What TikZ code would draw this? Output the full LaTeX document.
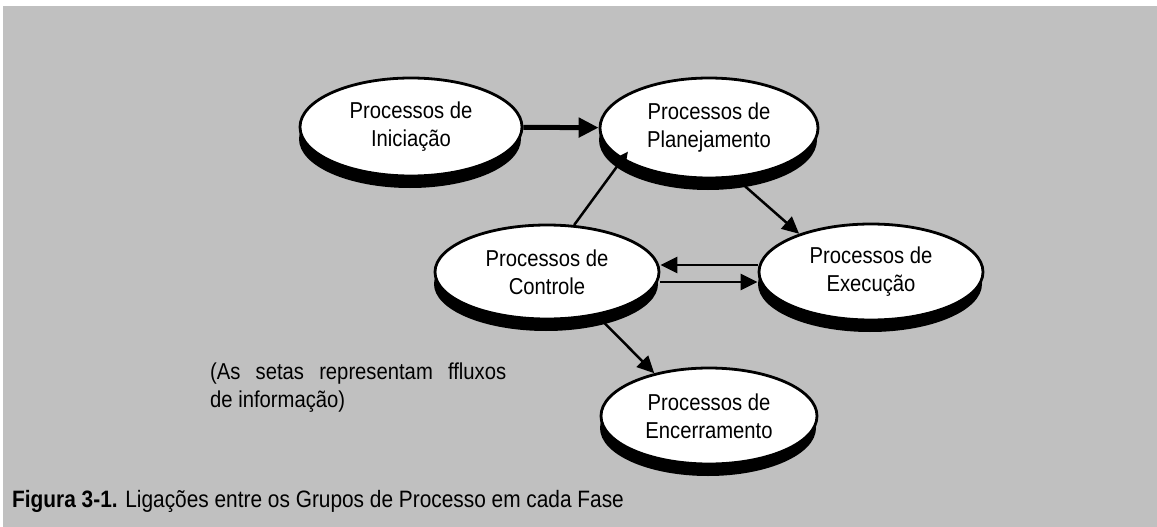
\documentclass[tikz,border=0pt]{standalone}
\usepackage{fontspec}
\setmainfont{Liberation Sans}[FakeStretch=0.88]
\usetikzlibrary{arrows.meta,shapes.geometric,shadows}
\definecolor{panel}{RGB}{192,192,192}
\begin{document}
\begin{tikzpicture}[x=1pt,y=-1pt,
  proc/.style={ellipse, draw=black, line width=2.8pt, fill=white, inner sep=0pt,
    align=center, font=\fontsize{23}{28}\selectfont,
    drop shadow={shadow xshift=-1pt, shadow yshift=-12pt, fill=black, opacity=1}},
  flow/.style={line width=2.5pt, -{Triangle[length=17pt,width=16pt]}},
  mainflow/.style={line width=5pt, -{Triangle[length=20pt,width=19pt]}},
  note/.style={font=\fontsize{23}{28}\selectfont, inner sep=0pt}]
\useasboundingbox (0,0) rectangle (1157,527);
\fill[white] (0,0) rectangle (1157,527);
\fill[panel] (3,6) rectangle (1157,527);

% process groups
\node[proc, minimum width=222pt, minimum height=98pt] (ini) at (411,127) {Processos de\\Iniciação};
\node[proc, minimum width=218pt, minimum height=100pt] (plan) at (709,128) {Processos de\\Planejamento};
\node[proc, minimum width=224pt, minimum height=94pt] (ctrl) at (547,272) {Processos de\\Controle};
\node[proc, minimum width=224pt, minimum height=96pt] (exec) at (871,272) {Processos de\\Execução};
\node[proc, minimum width=216pt, minimum height=96pt] (enc) at (709,416) {Processos de\\Encerramento};

% information flows
\draw[mainflow] (ini) -- (plan);
\draw[flow, shorten >=-10pt] (ctrl.60) -- (plan.200);
\draw[flow] (plan.-62) -- (exec.152);
\draw[flow] ([yshift=7pt]exec.west) -- ([yshift=7pt]ctrl.east);
\draw[flow] ([yshift=-10pt]ctrl.east) -- ([yshift=-10pt]exec.west);
\draw[flow] (ctrl.-41) -- (enc.142);

% remark and caption
\node[note, anchor=north west, align=left] (remark) at (210,363)
  {\makebox[296pt][s]{(As setas representam ffluxos}\\de informação)};
\node[note, font=\fontsize{23.7}{28}\selectfont, anchor=base west] (caption) at (12,507)
  {\textbf{Figura 3-1.} Ligações entre os Grupos de Processo em cada Fase};
\end{tikzpicture}
\end{document}
